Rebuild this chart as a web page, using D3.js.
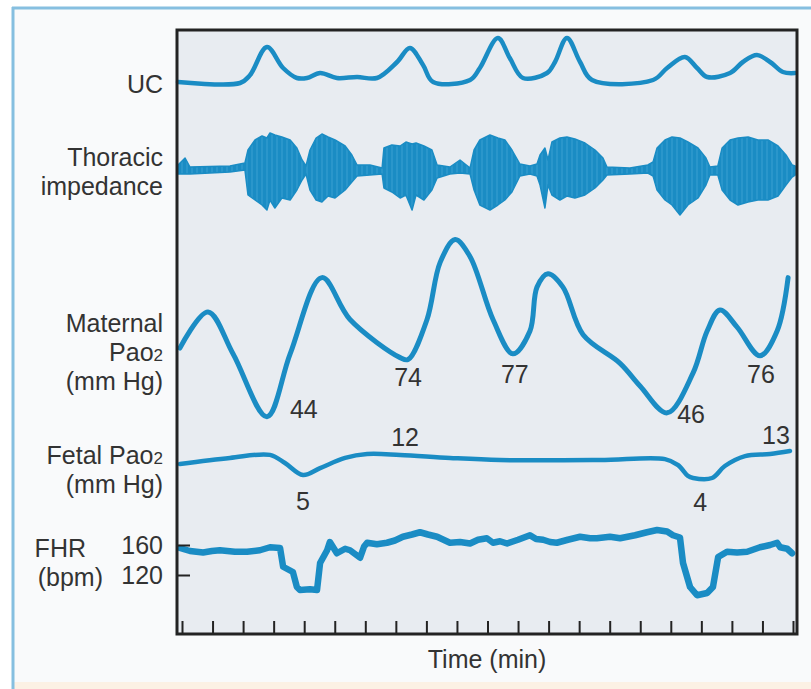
<!DOCTYPE html>
<html>
<head>
<meta charset="utf-8">
<script src="https://cdn.jsdelivr.net/npm/d3@7"></script>
<style>
  body { margin: 0; background: #ffffff; }
  svg { display: block; font-family: "Liberation Sans", Arial, sans-serif; }
</style>
</head>
<body>
<svg id="chart" width="811" height="689"></svg>
<script>
// Data (time in minutes, one tick per minute)
var timeTicks = d3.range(0, 21);

var ucTime  = [-0.13, 1.90, 2.23, 2.78, 3.31, 3.76, 4.09, 4.52, 5.07, 5.73, 6.38, 7.04, 7.46, 7.89, 8.22, 9.43, 9.75, 10.34, 10.73, 11.16, 11.95, 12.21, 12.60, 13.03, 13.42, 15.42, 15.88, 16.46, 16.86, 17.19, 17.94, 18.36, 18.82, 19.25, 19.67, 20.07];
var ucValue = [13, 12, 20, 48, 27, 17, 17, 22, 17, 18, 17, 33, 47, 30, 13, 15, 27, 57, 37, 17, 22, 33, 57, 33, 15, 15, 27, 38, 27, 18, 22, 33, 40, 33, 23, 22];

// thoracic impedance: upper / lower envelope of the trace
var tiTime  = [-0.13, 0.10, 0.26, 1.57, 2.06, 2.16, 2.39, 2.62, 2.78, 2.88, 3.04, 3.27, 3.54, 3.76, 3.93, 4.06, 4.19, 4.39, 4.58, 4.78, 5.01, 5.34, 5.56, 5.73, 6.15, 6.55, 6.61, 6.87, 7.14, 7.33, 7.53, 7.66, 7.92, 8.18, 8.35, 8.77, 9.10, 9.43, 9.56, 9.75, 10.08, 10.34, 10.57, 10.80, 11.06, 11.39, 11.62, 11.72, 11.88, 11.98, 12.11, 12.37, 12.60, 12.86, 13.19, 13.52, 13.78, 13.91, 14.66, 15.25, 15.42, 15.55, 15.81, 16.04, 16.30, 16.56, 16.89, 17.15, 17.28, 17.54, 17.68, 17.94, 18.20, 18.53, 18.85, 19.18, 19.51, 19.77, 19.97, 20.07];
var tiUpper = [5, 12, 3, 4, 7, 20, 30, 34, 32, 37, 35, 33, 30, 22, 10, 4, 20, 32, 36, 33, 30, 24, 15, 5, 5, 2, 22, 25, 24, 28, 26, 27, 24, 20, 5, 3, 10, 2, 20, 30, 35, 32, 30, 20, 6, 4, 6, 15, 22, 10, 28, 32, 33, 31, 27, 20, 12, 3, 2, 5, 8, 22, 30, 33, 32, 28, 22, 12, 3, 4, 22, 30, 32, 33, 30, 30, 24, 15, 5, 4];
var tiLower = [-4, -4, -4, -2, 0, -25, -30, -35, -40, -30, -38, -28, -30, -20, -10, -4, -20, -30, -32, -26, -28, -20, -12, -6, -5, -4, -18, -22, -28, -25, -40, -25, -30, -20, -8, -4, -3, -4, -20, -35, -40, -35, -30, -22, -6, -4, -6, -15, -38, -15, -25, -30, -26, -28, -25, -18, -10, -5, -4, -3, -6, -20, -30, -35, -45, -35, -28, -15, -5, -5, -20, -30, -35, -32, -30, -30, -26, -15, -7, -5];

// maternal PaO2 (mm Hg)
var mpTime  = [-0.07, 0.85, 1.67, 2.78, 3.54, 4.58, 5.50, 7.14, 7.40, 8.02, 8.45, 8.94, 9.43, 10.18, 10.83, 11.39, 11.62, 11.98, 12.47, 13.13, 14.34, 15.00, 15.88, 16.73, 17.19, 17.61, 18.17, 18.92, 19.48, 19.84];
var mpValue = [80, 99, 77, 44, 77, 117, 95, 75, 74, 95, 125, 137, 128, 95, 77, 89, 112, 119, 112, 87, 72, 60, 46, 67, 89, 100, 91, 76, 89, 117];
var mpNoteIdx = [3, 8, 14, 22, 27];

// fetal PaO2 (mm Hg)
var fpTime  = [-0.07, 1.57, 2.88, 3.37, 3.96, 4.52, 5.34, 6.06, 7.14, 8.77, 10.41, 13.68, 15.81, 16.24, 16.56, 16.73, 17.35, 17.77, 18.43, 19.25, 19.90];
var fpValue = [8.7, 10.7, 11.7, 9, 5, 7.3, 10.7, 12, 11.7, 10.7, 10, 10, 10.3, 8.3, 4.7, 4, 4, 8, 11.3, 12, 13];
var fpNoteIdx = [4, 7, 15, 20];

// fetal heart rate (bpm)
var fhrTime  = [-0.07, 0.26, 0.69, 0.98, 1.24, 1.73, 2.13, 2.55, 2.88, 3.21, 3.31, 3.63, 3.76, 3.86, 4.19, 4.42, 4.52, 4.75, 4.84, 5.07, 5.34, 5.50, 5.83, 5.96, 6.06, 6.38, 6.71, 6.97, 7.23, 7.53, 7.79, 8.05, 8.35, 8.77, 9.10, 9.43, 9.69, 9.98, 10.18, 10.41, 10.64, 11.00, 11.39, 11.59, 11.82, 12.05, 12.27, 12.63, 13.03, 13.36, 13.58, 14.01, 14.34, 14.83, 15.22, 15.55, 15.88, 16.07, 16.30, 16.40, 16.63, 16.86, 17.19, 17.38, 17.55, 17.84, 18.17, 18.50, 18.92, 19.25, 19.48, 19.58, 19.81, 19.97];
var fhrValue = [156, 152, 150, 152, 153, 151, 151, 153, 157, 156, 131, 124, 104, 100, 101, 100, 136, 153, 164, 149, 155, 153, 143, 158, 163, 161, 163, 166, 171, 174, 177, 174, 171, 163, 164, 162, 167, 169, 163, 165, 162, 167, 173, 168, 167, 164, 163, 167, 171, 169, 169, 171, 169, 173, 177, 180, 178, 173, 170, 136, 104, 93, 96, 104, 144, 151, 150, 151, 157, 160, 163, 157, 155, 149];
var fhrTicks = [120, 160];

var trackLabels = [["UC"], ["Thoracic", "impedance"], ["Maternal", "Pao|2", "(mm Hg)"], ["Fetal Pao|2", "(mm Hg)"], ["FHR", "(bpm)"]];
var xTitle = "Time (min)";

var blue = "#1a8cc4";
var ink = "#333333";

var svg = d3.select("#chart");

// background panels
svg.append("rect").attr("width", 811).attr("height", 689).attr("fill", "#ffffff");
svg.append("rect").attr("x", 13).attr("y", 8).attr("width", 798).attr("height", 681).attr("fill", "#f9fafb");
svg.append("rect").attr("x", 13).attr("y", 682).attr("width", 798).attr("height", 7).attr("fill", "#fcf1e4");
svg.append("line").attr("x1", 13).attr("x2", 13).attr("y1", 7).attr("y2", 689)
  .attr("stroke", "#86bfe0").attr("stroke-width", 3);
svg.append("line").attr("x1", 12).attr("x2", 811).attr("y1", 8).attr("y2", 8)
  .attr("stroke", "#86bfe0").attr("stroke-width", 3);

var box = {left: 177, right: 797, top: 30, bottom: 634};
svg.append("rect")
  .attr("x", box.left).attr("y", box.top)
  .attr("width", box.right - box.left).attr("height", box.bottom - box.top)
  .attr("fill", "#e8ecf1");

// scales
var x = d3.scaleLinear().domain([0, 20]).range([182, 793]);
var ucY = d3.scaleLinear().domain([0, 60]).range([95, 35]);
var tiY = d3.scaleLinear().domain([-50, 40]).range([220, 130]);
var mpY = d3.scaleLinear().domain([37, 142]).range([430, 230]);
var fpY = d3.scaleLinear().domain([4, 13]).range([478, 451]);
var fhrY = d3.scaleLinear().domain([120, 160]).range([575, 545]);

function zipped(ts, vs) {
  return ts.map(function (t, i) { return [t, vs[i]]; });
}

function drawLine(ts, vs, yScale, width, curve) {
  var line = d3.line()
    .x(function (d) { return x(d[0]); })
    .y(function (d) { return yScale(d[1]); })
    .curve(curve);
  svg.append("path")
    .datum(zipped(ts, vs))
    .attr("d", line)
    .attr("fill", "none")
    .attr("stroke", blue)
    .attr("stroke-width", width)
    .attr("stroke-linejoin", "round")
    .attr("stroke-linecap", "round");
}

// UC
drawLine(ucTime, ucValue, ucY, 4.5, d3.curveCatmullRom.alpha(0.5));

// thoracic impedance, filled envelope with a streaky texture
var defs = svg.append("defs");
var pat = defs.append("pattern").attr("id", "streak")
  .attr("patternUnits", "userSpaceOnUse").attr("width", 5).attr("height", 40);
pat.append("rect").attr("width", 5).attr("height", 40).attr("fill", blue);
pat.append("line").attr("x1", 2).attr("x2", 2).attr("y1", 0).attr("y2", 40)
  .attr("stroke", "#3aa0d2").attr("stroke-width", 1);

var tiData = tiTime.map(function (t, i) { return {t: t, hi: tiUpper[i], lo: tiLower[i]}; });
var tiArea = d3.area()
  .x(function (d) { return x(d.t); })
  .y0(function (d) { return tiY(d.lo); })
  .y1(function (d) { return tiY(d.hi); })
  .curve(d3.curveLinear);
svg.append("path")
  .datum(tiData)
  .attr("d", tiArea)
  .attr("fill", "url(#streak)")
  .attr("stroke", blue)
  .attr("stroke-width", 1.5)
  .attr("stroke-linejoin", "round");

// maternal PaO2
drawLine(mpTime, mpValue, mpY, 5, d3.curveCatmullRom.alpha(0.5));

// fetal PaO2
drawLine(fpTime, fpValue, fpY, 4.5, d3.curveCatmullRom.alpha(0.5));

// FHR
drawLine(fhrTime, fhrValue, fhrY, 6.5, d3.curveLinear);

// value notes next to the curves
var mpOffsets = [[23, 1, "start"], [0, 26, "middle"], [2, 29, "middle"], [10, 10, "start"], [1, 27, "middle"]];
svg.append("g").selectAll("text")
  .data(mpNoteIdx)
  .enter().append("text")
  .attr("x", function (d, i) { return x(mpTime[d]) + mpOffsets[i][0]; })
  .attr("y", function (d, i) { return mpY(mpValue[d]) + mpOffsets[i][1]; })
  .attr("text-anchor", function (d, i) { return mpOffsets[i][2]; })
  .attr("font-size", 25).attr("fill", ink)
  .text(function (d) { return mpValue[d]; });

var fpOffsets = [[0, 35], [38, -8], [7, 33], [-14, -7]];
svg.append("g").selectAll("text")
  .data(fpNoteIdx)
  .enter().append("text")
  .attr("x", function (d, i) { return x(fpTime[d]) + fpOffsets[i][0]; })
  .attr("y", function (d, i) { return fpY(fpValue[d]) + fpOffsets[i][1]; })
  .attr("text-anchor", "middle")
  .attr("font-size", 25).attr("fill", ink)
  .text(function (d) { return Math.round(fpValue[d]); });

// plot frame
svg.append("rect")
  .attr("x", box.left).attr("y", box.top)
  .attr("width", box.right - box.left).attr("height", box.bottom - box.top)
  .attr("fill", "none").attr("stroke", "#232323").attr("stroke-width", 3);

// time ticks along the bottom (unlabelled)
var xAxis = svg.append("g")
  .attr("transform", "translate(0," + (box.bottom - 1) + ")")
  .call(d3.axisTop(x).tickValues(timeTicks).tickSize(12).tickFormat(""));
xAxis.select(".domain").remove();
xAxis.selectAll("line").attr("stroke", "#232323").attr("stroke-width", 2);

svg.append("text")
  .attr("x", 487).attr("y", 668)
  .attr("text-anchor", "middle")
  .attr("font-size", 25).attr("fill", ink)
  .text(xTitle);

// FHR scale
var yAxis = svg.append("g")
  .attr("transform", "translate(" + box.left + ",0)")
  .call(d3.axisLeft(fhrY).tickValues(fhrTicks).tickSize(-13).tickPadding(14));
yAxis.select(".domain").remove();
yAxis.selectAll("line").attr("stroke", "#232323").attr("stroke-width", 2);
yAxis.selectAll("text").attr("font-size", 25).attr("fill", ink)
  .attr("font-family", "Liberation Sans, Arial, sans-serif");

// track labels on the left
var labelBase = [93, 166, 332, 464, 557];
var labelX = [163, 163, 163, 163, 86];
var labels = svg.append("g").attr("font-size", 25).attr("fill", ink);
trackLabels.forEach(function (lines, k) {
  lines.forEach(function (line, j) {
    var parts = line.split("|");
    var t = labels.append("text")
      .attr("x", k === 4 && j === 1 ? 103 : labelX[k])
      .attr("y", labelBase[k] + j * 29)
      .attr("text-anchor", "end");
    t.append("tspan").text(parts[0]);
    if (parts.length > 1) t.append("tspan").attr("font-size", 17).text(parts[1]);
  });
});
</script>
</body>
</html>
